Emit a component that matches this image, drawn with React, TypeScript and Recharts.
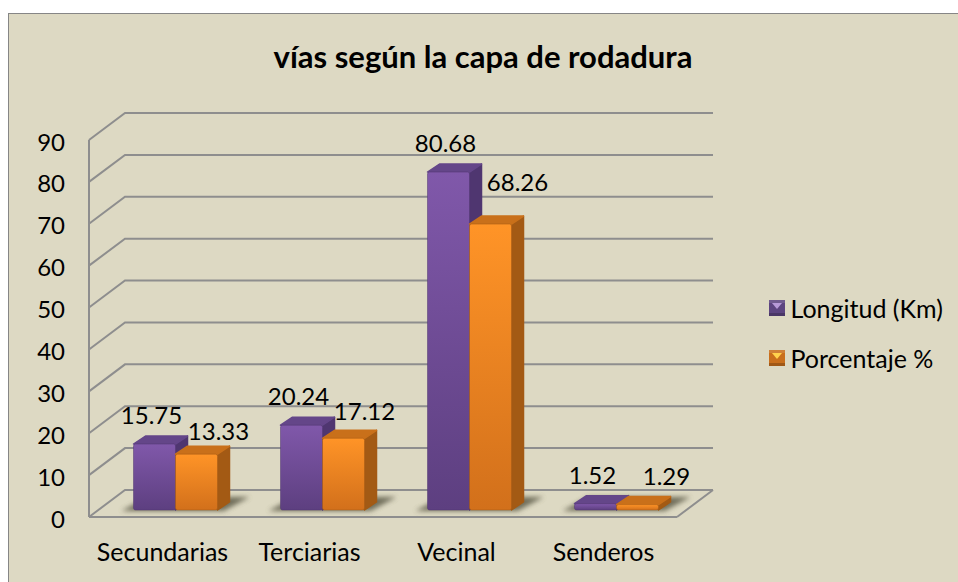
import { BarChart, Bar, XAxis, YAxis, CartesianGrid, LabelList, Legend } from 'recharts';

const categories = ['Secundarias', 'Terciarias', 'Vecinal', 'Senderos'];
const longitud = [15.75, 20.24, 80.68, 1.52];
const porcentaje = [13.33, 17.12, 68.26, 1.29];
const yTicks = [0, 10, 20, 30, 40, 50, 60, 70, 80, 90];

const chartData = categories.map((name, i) => ({
  name,
  longitud: longitud[i],
  porcentaje: porcentaje[i],
}));

const FONT = 'Lato, "Open Sans", sans-serif';
const BG = '#ddd9c3';
const GRID = '#8e8e8e';

// fake 3D: wall offset of the back plane, and of the bars inside the box
const WALL_DX = 36;
const WALL_DY = -27;
const BAR_DX = 12.5;
const BAR_DY = -7;
const DEPTH_X = 12;
const DEPTH_Y = -8;

// label offsets were moved by hand in the original chart
const orangeLabelNudge = [
  [22, -22],
  [21, -26],
  [27, -41],
  [29, -28],
];

const legendColors: Record<string, string> = {
  'Longitud (Km)': '#b79ad8',
  'Porcentaje %': '#ffd24d',
};

function WallLine(props: any) {
  const { x1, y1, x2 } = props;
  const points = `${x1},${y1} ${x1 + WALL_DX},${y1 + WALL_DY} ${x2 + WALL_DX},${y1 + WALL_DY}`;
  const floor = y1 > 510;
  return (
    <g>
      <polyline points={points} fill="none" stroke={GRID} strokeWidth={2} />
      {floor && (
        <line x1={x2} y1={y1} x2={x2 + WALL_DX} y2={y1 + WALL_DY} stroke={GRID} strokeWidth={2} />
      )}
    </g>
  );
}

function Bar3D({ x, y, width, height, front, side, top, shadow }: any) {
  const fx = x + BAR_DX;
  const fy = y + BAR_DY;
  const r = fx + width;
  const b = fy + height;
  return (
    <g>
      {shadow && (
        <polygon
          points={`${fx - 12},${b + 1} ${fx + 2 * width + 6},${b + 1} ${fx + 2 * width + 32},${b - 13} ${fx + 14},${b - 13}`}
          fill="#55533f"
          opacity={0.8}
          filter="url(#floorBlur)"
        />
      )}
      <polygon
        points={`${r},${fy} ${r + DEPTH_X},${fy + DEPTH_Y} ${r + DEPTH_X},${b + DEPTH_Y} ${r},${b}`}
        fill={side}
        stroke={side}
        strokeWidth={1.5}
        strokeLinejoin="round"
      />
      <polygon
        points={`${fx},${fy} ${fx + DEPTH_X},${fy + DEPTH_Y} ${r + DEPTH_X},${fy + DEPTH_Y} ${r},${fy}`}
        fill={top}
        stroke={top}
        strokeWidth={1.5}
        strokeLinejoin="round"
      />
      <rect x={fx} y={fy} width={width} height={height} rx={2} fill={front} stroke={side} strokeOpacity={0.5} />
    </g>
  );
}

function PurpleShape(props: any) {
  return <Bar3D {...props} front="url(#purpleFront)" side="#4f3670" top="#644689" shadow />;
}

function OrangeShape(props: any) {
  return <Bar3D {...props} front="url(#orangeFront)" side="#a35a14" top="#c9701a" />;
}

function PurpleLabel({ x, y, width, value }: any) {
  return (
    <text x={x + width / 2 + BAR_DX - 3} y={y + BAR_DY - 28} dy={8} textAnchor="middle" fontFamily={FONT} fontSize={24} fill="#000">
      {value}
    </text>
  );
}

function OrangeLabel({ x, y, width, value, index }: any) {
  const [dx, dy] = orangeLabelNudge[index];
  return (
    <text x={x + width / 2 + BAR_DX + dx} y={y + BAR_DY + dy} dy={8} textAnchor="middle" fontFamily={FONT} fontSize={24} fill="#000">
      {value}
    </text>
  );
}

function LegendBox({ payload }: any) {
  return (
    <div style={{ fontFamily: FONT, fontSize: 25, color: '#000' }}>
      {payload.map((item: any) => (
        <div key={item.value} style={{ display: 'flex', alignItems: 'center', height: 50, whiteSpace: 'nowrap' }}>
          <svg width={16} height={16} style={{ marginRight: 6 }}>
            <rect width={16} height={16} fill={item.color} />
            <rect x={0} y={0} width={16} height={3} fill="#fff" opacity={0.12} />
            <polygon points="3,3 13,3 8,9" fill={legendColors[item.value]} />
            <rect x={0} y={13} width={16} height={3} fill="#000" opacity={0.2} />
          </svg>
          {item.value}
        </div>
      ))}
    </div>
  );
}

export default function App() {
  return (
    <div
      style={{
        position: 'absolute',
        left: 8,
        top: 13,
        width: 950,
        height: 569,
        boxSizing: 'border-box',
        background: BG,
        borderLeft: '1.5px solid #868686',
        borderTop: '1.5px solid #868686',
      }}
    >
      <BarChart
        width={958}
        height={582}
        data={chartData}
        barSize={42}
        barGap={0}
        margin={{ top: 140, right: 96, bottom: 35, left: 29 }}
        style={{ position: 'absolute', left: -9.5, top: -14.5, fontFamily: FONT }}
      >
        <defs>
          <linearGradient id="purpleFront" x1="0" y1="0" x2="0" y2="1">
            <stop offset="0" stopColor="#8058aa" />
            <stop offset="1" stopColor="#5d3f80" />
          </linearGradient>
          <linearGradient id="orangeFront" x1="0" y1="0" x2="0" y2="1">
            <stop offset="0" stopColor="#ff9427" />
            <stop offset="1" stopColor="#d2701b" />
          </linearGradient>
          <filter id="floorBlur" x="-20%" y="-60%" width="140%" height="220%">
            <feGaussianBlur stdDeviation="2.5" />
          </filter>
        </defs>
        <text x={483} y={68} textAnchor="middle" fontFamily={FONT} fontSize={31} fontWeight={700} fill="#000">
          vías según la capa de rodadura
        </text>
        <CartesianGrid vertical={false} horizontal={WallLine as any} />
        <XAxis
          dataKey="name"
          tickLine={false}
          axisLine={{ stroke: GRID, strokeWidth: 2 }}
          tick={{ fill: '#000', fontSize: 25, fontFamily: FONT, dy: 18 }}
          interval={0}
        />
        <YAxis
          domain={[0, 90]}
          ticks={yTicks}
          tickLine={false}
          axisLine={{ stroke: GRID, strokeWidth: 2 }}
          width={60}
          tick={{ fill: '#000', fontSize: 24, fontFamily: FONT, dx: -16, dy: 2 }}
        />
        <Legend
          layout="vertical"
          align="right"
          verticalAlign="top"
          wrapperStyle={{ left: 769, top: 283, width: 185 }}
          content={LegendBox as any}
        />
        <Bar dataKey="longitud" name="Longitud (Km)" fill="#5d4580" shape={PurpleShape} isAnimationActive={false}>
          <LabelList dataKey="longitud" content={PurpleLabel as any} />
        </Bar>
        <Bar dataKey="porcentaje" name="Porcentaje %" fill="#c96f1c" shape={OrangeShape} isAnimationActive={false}>
          <LabelList dataKey="porcentaje" content={OrangeLabel as any} />
        </Bar>
      </BarChart>
    </div>
  );
}
